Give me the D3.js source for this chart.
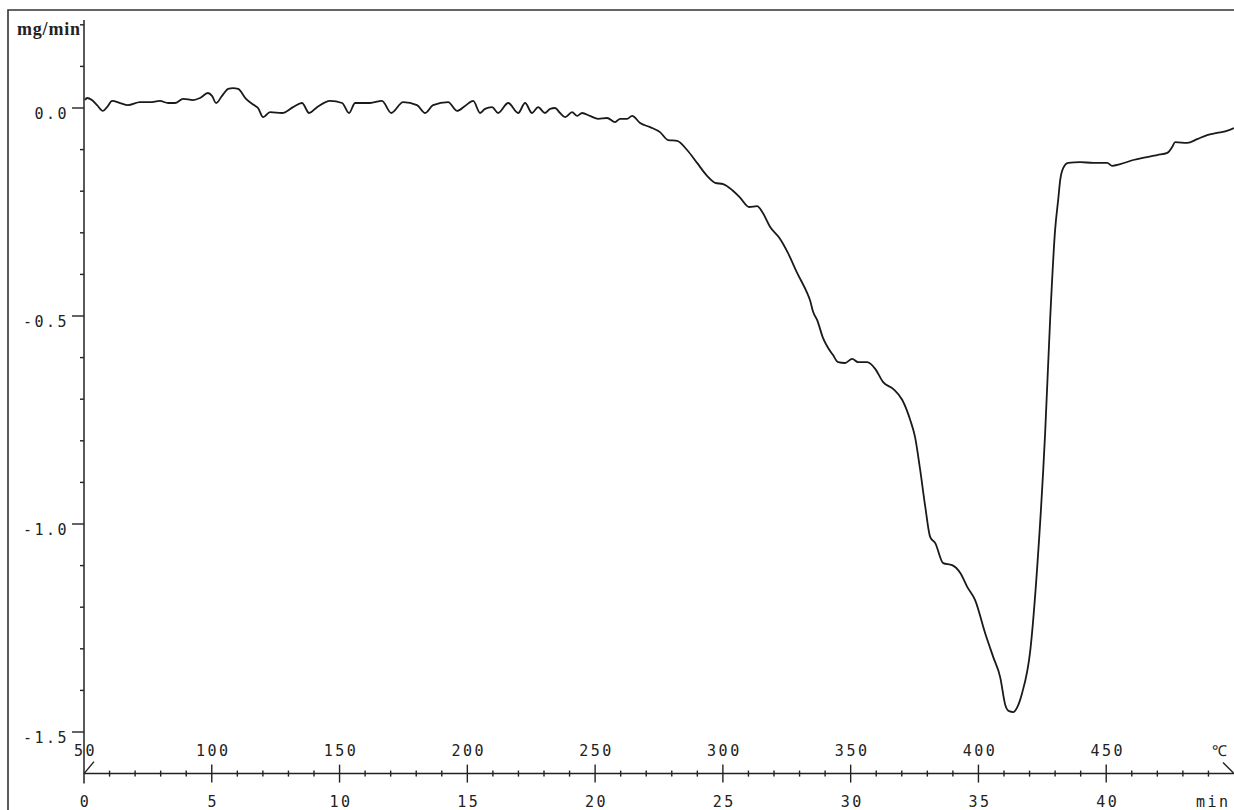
<!DOCTYPE html>
<html>
<head>
<meta charset="utf-8">
<script src="https://cdn.jsdelivr.net/npm/d3@7/dist/d3.min.js"></script>
<style>
  html, body { margin: 0; padding: 0; background: #fff; }
  svg { display: block; }
  .lab { font-family: "DejaVu Sans Mono", "Liberation Mono", monospace; font-size: 15px; letter-spacing: 2.5px; fill: #222; }
</style>
</head>
<body>
<div class="vis-dtg"></div>
<script>
// DTG trace: time (min) vs mass loss rate (mg/min)
const time = [0.04, 0.12, 0.31, 0.51, 0.74, 0.90, 1.10, 1.41, 1.72, 2.19, 2.58, 2.97, 3.29, 3.56, 3.88, 4.27, 4.54, 4.85, 5.01, 5.17,
  5.40, 5.64, 5.83, 6.03, 6.34, 6.65, 6.81, 7.01, 7.28, 7.75, 8.18, 8.53, 8.81, 9.12, 9.63, 10.10, 10.37, 10.61, 11.19, 11.66,
  12.02, 12.49, 13.03, 13.35, 13.66, 14.25, 14.60, 14.91, 15.23, 15.50, 15.69, 15.97, 16.20, 16.60, 16.99, 17.26, 17.53, 17.77, 18.04, 18.24,
  18.43, 18.63, 18.83, 19.10, 19.30, 19.49, 19.80, 20.12, 20.47, 20.78, 20.98, 21.25, 21.45, 21.76, 22.15, 22.54, 22.86, 23.21, 23.60, 23.99,
  24.38, 24.70, 25.01, 25.36, 25.68, 26.03, 26.34, 26.54, 26.85, 27.24, 27.55, 27.91, 28.30, 28.41, 28.53, 28.69, 28.92, 29.12, 29.31, 29.51,
  29.78, 30.06, 30.29, 30.65, 30.96, 31.27, 31.66, 32.02, 32.33, 32.52, 32.72, 32.92, 33.11, 33.31, 33.62, 33.97, 34.29, 34.56, 34.87, 35.26,
  35.58, 35.85, 36.05, 36.20, 36.36, 36.52, 36.71, 37.03, 37.30, 37.61, 37.81, 38.00, 38.12, 38.20, 38.32, 38.51, 38.98, 39.49, 40.04, 40.23,
  40.55, 41.06, 41.60, 42.00, 42.39, 42.58, 42.70, 43.17, 43.56, 43.95, 44.34, 44.72, 45.00];
const rate = [0.019, 0.024, 0.019, 0.007, -0.007, 0.002, 0.017, 0.012, 0.007, 0.014, 0.014, 0.017, 0.012, 0.012, 0.022, 0.019, 0.024, 0.036, 0.029, 0.012,
  0.029, 0.046, 0.048, 0.046, 0.022, 0.007, 0.000, -0.022, -0.010, -0.012, 0.002, 0.012, -0.012, 0.002, 0.017, 0.012, -0.012, 0.012, 0.012, 0.017,
  -0.012, 0.014, 0.007, -0.012, 0.007, 0.014, -0.007, 0.005, 0.017, -0.012, -0.002, 0.002, -0.012, 0.012, -0.012, 0.012, -0.012, 0.002, -0.012, -0.002,
  0.000, -0.012, -0.022, -0.010, -0.019, -0.012, -0.019, -0.026, -0.024, -0.034, -0.026, -0.026, -0.019, -0.036, -0.046, -0.058, -0.077, -0.079, -0.101, -0.132,
  -0.163, -0.180, -0.183, -0.197, -0.216, -0.238, -0.236, -0.250, -0.286, -0.315, -0.349, -0.397, -0.445, -0.462, -0.490, -0.510, -0.553, -0.577, -0.594, -0.611,
  -0.613, -0.603, -0.611, -0.611, -0.627, -0.659, -0.675, -0.702, -0.750, -0.791, -0.870, -0.959, -1.031, -1.046, -1.094, -1.099, -1.118, -1.151, -1.183, -1.262,
  -1.320, -1.368, -1.435, -1.450, -1.452, -1.440, -1.406, -1.303, -1.103, -0.781, -0.502, -0.293, -0.221, -0.173, -0.144, -0.132, -0.130, -0.132, -0.132, -0.139,
  -0.135, -0.125, -0.118, -0.113, -0.108, -0.094, -0.082, -0.084, -0.075, -0.065, -0.060, -0.055, -0.048];

const tempLabels = ['50', '100', '150', '200', '250', '300', '350', '400', '450'];
const minLabels = ['0', '5', '10', '15', '20', '25', '30', '35', '40'];
const yMajor = [0.0, -0.5, -1.0, -1.5];

const W = 1234, H = 810;
const ink = '#222';

const svg = d3.select('.vis-dtg')
    .append('svg')
    .attr('width', W)
    .attr('height', H);

const x = d3.scaleLinear().domain([0, 45]).range([84, 1234]);
const y = d3.scaleLinear().domain([-1.6, 0.2]).range([773.6, 24.8]);

// frame (left and top only, the rest is cut off)
svg.append('path')
    .attr('d', 'M8,' + H + 'V10H' + W)
    .attr('fill', 'none')
    .attr('stroke', '#333')
    .attr('stroke-width', 1.6);

// y axis
svg.append('line')
    .attr('x1', x(0)).attr('x2', x(0))
    .attr('y1', 20).attr('y2', y(-1.6) + 10)
    .attr('stroke', ink).attr('stroke-width', 1.5);

const yMinor = d3.range(2, -16, -1).map(d => d / 10);
svg.selectAll('.ytick')
    .data(yMinor)
    .enter()
    .append('line')
    .attr('x1', d => x(0) - (Math.abs(d * 2 - Math.round(d * 2)) < 1e-6 ? 12 : 4))
    .attr('x2', x(0))
    .attr('y1', d => y(d)).attr('y2', d => y(d))
    .attr('stroke', ink).attr('stroke-width', 1.4);

svg.selectAll('.ylab')
    .data(yMajor)
    .enter()
    .append('text')
    .attr('class', 'lab')
    .attr('text-anchor', 'end')
    .attr('x', 69)
    .attr('y', d => y(d) + 11)
    .text(d => d3.format('.1f')(d).replace('−', '-'));

svg.append('text')
    .attr('x', 17).attr('y', 35)
    .attr('font-family', '"Liberation Serif", "Times New Roman", serif')
    .attr('font-weight', 'bold')
    .attr('font-size', 18)
    .attr('textLength', 63)
    .attr('fill', ink)
    .text('mg/min');

// x axis at -1.6
const xa = y(-1.6);
svg.append('line')
    .attr('x1', x(0)).attr('x2', x(45))
    .attr('y1', xa).attr('y2', xa)
    .attr('stroke', ink).attr('stroke-width', 1.5);

svg.selectAll('.xtick')
    .data(d3.range(1, 45))
    .enter()
    .append('line')
    .attr('x1', d => x(d)).attr('x2', d => x(d))
    .attr('y1', d => xa - (d % 5 === 0 ? 9 : 3))
    .attr('y2', d => xa + (d % 5 === 0 ? 9 : 3))
    .attr('stroke', ink).attr('stroke-width', 1.4);

// slash marks at both ends
svg.append('line')
    .attr('x1', x(0)).attr('y1', xa)
    .attr('x2', x(0) + 10).attr('y2', xa - 12)
    .attr('stroke', ink).attr('stroke-width', 1.4);
svg.append('line')
    .attr('x1', x(45) - 11).attr('y1', xa - 11)
    .attr('x2', x(45)).attr('y2', xa)
    .attr('stroke', ink).attr('stroke-width', 1.4);

svg.selectAll('.tlab')
    .data(tempLabels)
    .enter()
    .append('text')
    .attr('class', 'lab')
    .attr('text-anchor', 'middle')
    .attr('x', (d, i) => x(i * 5) + 1.5)
    .attr('y', xa - 18)
    .text(d => d);

svg.selectAll('.mlab')
    .data(minLabels)
    .enter()
    .append('text')
    .attr('class', 'lab')
    .attr('text-anchor', 'middle')
    .attr('x', (d, i) => x(i * 5) + 1.5)
    .attr('y', xa + 33)
    .text(d => d);

svg.append('text')
    .attr('class', 'lab')
    .attr('x', 1212).attr('y', xa - 18)
    .text('℃');
svg.append('text')
    .attr('class', 'lab')
    .attr('x', 1196).attr('y', xa + 33)
    .text('min');

// the trace
const pts = time.map((t, i) => [t, rate[i]]);
const line = d3.line()
    .x(d => x(d[0]))
    .y(d => y(d[1]))
    .curve(d3.curveMonotoneX);

svg.append('path')
    .datum(pts)
    .attr('d', line)
    .attr('fill', 'none')
    .attr('stroke', '#1a1a1a')
    .attr('stroke-width', 1.8)
    .attr('stroke-linejoin', 'round');
</script>
</body>
</html>
